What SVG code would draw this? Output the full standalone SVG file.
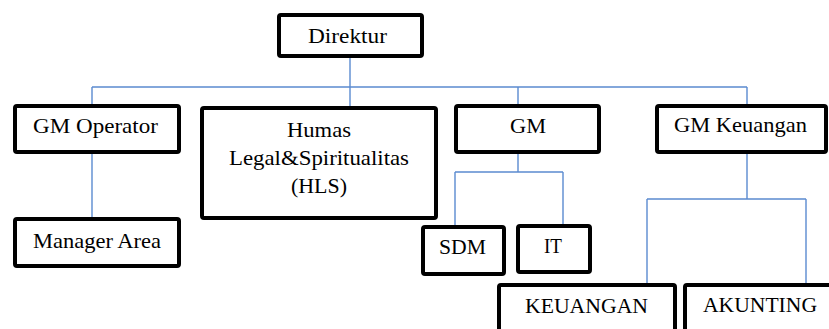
<svg xmlns="http://www.w3.org/2000/svg" width="829" height="329" viewBox="0 0 829 329">
<style>
.box{fill:#fff;stroke:#000;stroke-width:4;}
.lbl{font-family:'Times New Roman','Liberation Serif','DejaVu Serif',Times,serif;font-size:22px;fill:#000;text-anchor:middle;}
.con{fill:none;stroke:#5B8BD0;stroke-width:1.4;}
</style>
<rect width="829" height="329" fill="#fff"/>
<g id="connectors">
<path class="con" d="M350,58 V87 M92,87 H747 M92,87 V104 M350,87 V106 M518,87 V104 M747,87 V104"/>
<path class="con" d="M92,154 V217"/>
<path class="con" d="M518,154 V172 M455,172 H563 M455,172 V225 M563,172 V224"/>
<path class="con" d="M747,154 V199 M647,199 H806 M647,199 V283 M806,199 V283"/>
</g>
<g id="direktur"><rect class="box" x="279" y="15" width="143" height="41" rx="2"/><text class="lbl" x="347.5" y="43" textLength="79" lengthAdjust="spacingAndGlyphs">Direktur</text></g>
<g id="gm-operator"><rect class="box" x="15" y="106" width="164" height="46" rx="2"/><text class="lbl" x="95.5" y="133" textLength="125" lengthAdjust="spacingAndGlyphs">GM Operator</text></g>
<g id="humas"><rect class="box" x="202" y="108" width="234" height="110" rx="2"/><text class="lbl" x="319" y="137" textLength="64" lengthAdjust="spacingAndGlyphs">Humas</text><text class="lbl" x="319" y="165" textLength="180" lengthAdjust="spacingAndGlyphs">Legal&amp;Spiritualitas</text><text class="lbl" x="319" y="193" textLength="56" lengthAdjust="spacingAndGlyphs">(HLS)</text></g>
<g id="gm"><rect class="box" x="456" y="106" width="143" height="46" rx="2"/><text class="lbl" x="528" y="133" textLength="36" lengthAdjust="spacingAndGlyphs">GM</text></g>
<g id="gm-keuangan"><rect class="box" x="657" y="106" width="169" height="46" rx="2"/><text class="lbl" x="740.5" y="132" textLength="133" lengthAdjust="spacingAndGlyphs">GM Keuangan</text></g>
<g id="manager-area"><rect class="box" x="15" y="219" width="164" height="47" rx="2"/><text class="lbl" x="97" y="248" textLength="128" lengthAdjust="spacingAndGlyphs">Manager Area</text></g>
<g id="sdm"><rect class="box" x="423" y="227" width="81" height="47" rx="2"/><text class="lbl" x="462.5" y="254" textLength="47" lengthAdjust="spacingAndGlyphs">SDM</text></g>
<g id="it"><rect class="box" x="518" y="226" width="72" height="46" rx="2"/><text class="lbl" x="553" y="253" textLength="18" lengthAdjust="spacingAndGlyphs">IT</text></g>
<g id="keuangan"><rect class="box" x="499" y="285" width="176" height="60" rx="2"/><text class="lbl" x="586.5" y="313" textLength="123" lengthAdjust="spacingAndGlyphs">KEUANGAN</text></g>
<g id="akunting"><rect class="box" x="685" y="285" width="160" height="60" rx="2"/><text class="lbl" x="760" y="312" textLength="114" lengthAdjust="spacingAndGlyphs">AKUNTING</text></g>
</svg>
